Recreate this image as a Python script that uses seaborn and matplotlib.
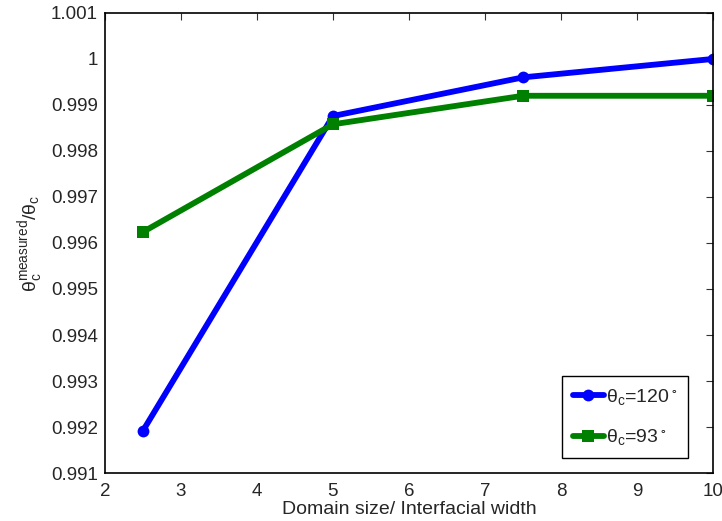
import matplotlib
matplotlib.use("Agg")
import matplotlib.pyplot as plt
import seaborn as sns
import pandas as pd

x_vals = [2.5, 5, 7.5, 10]
y_120 = [0.99192, 0.99876, 0.99960, 1.00000]
y_93 = [0.99624, 0.99858, 0.99920, 0.99920]
labels = [r"$\theta_c$=120$^\circ$", r"$\theta_c$=93$^\circ$"]

df = pd.DataFrame({
    "x": x_vals * 2,
    "y": y_120 + y_93,
    "series": [labels[0]] * 4 + [labels[1]] * 4,
})

sns.set_theme(style="white")
plt.rcParams["font.family"] = ["Liberation Sans", "DejaVu Sans"]
plt.rcParams["mathtext.default"] = "regular"

fig = plt.figure(figsize=(7.22, 5.21), dpi=100)
ax = fig.add_axes([0.1454, 0.0921, 0.842, 0.883])

sns.lineplot(data=df, x="x", y="y", hue="series", style="series",
             palette={labels[0]: "#0000FF", labels[1]: "#008000"},
             markers={labels[0]: "o", labels[1]: "s"},
             dashes=False, linewidth=4.2, markersize=8.5, markeredgewidth=0,
             ax=ax)

ax.set_xlim(2, 10)
ax.set_ylim(0.991, 1.001)
ax.set_xticks([2, 3, 4, 5, 6, 7, 8, 9, 10])
yt = [0.991, 0.992, 0.993, 0.994, 0.995, 0.996, 0.997, 0.998, 0.999, 1.0, 1.001]
ax.set_yticks(yt)
ax.set_yticklabels(["0.991", "0.992", "0.993", "0.994", "0.995", "0.996",
                    "0.997", "0.998", "0.999", "1", "1.001"])
ax.tick_params(direction="in", top=True, right=True, labelsize=13.5,
               length=5, width=0.8, color="#333333")
ax.tick_params(axis="x", pad=7)
ax.tick_params(axis="y", pad=5)
for s in ax.spines.values():
    s.set_color("black")
    s.set_linewidth(1.2)

ax.set_xlabel("Domain size/ Interfacial width", fontsize=14, labelpad=1)
ax.set_ylabel(r"$\theta_c^{measured}/\theta_c$", fontsize=14, labelpad=4)

leg = ax.legend(loc="lower right", bbox_to_anchor=(0.959, 0.0326),
                borderaxespad=0, fontsize=14, frameon=True, fancybox=False,
                edgecolor="black", framealpha=1, handlelength=1.6,
                handletextpad=0.12, labelspacing=1.05, borderpad=0.55)
leg.get_frame().set_linewidth(1.0)

fig.savefig("out.png", dpi=100)
